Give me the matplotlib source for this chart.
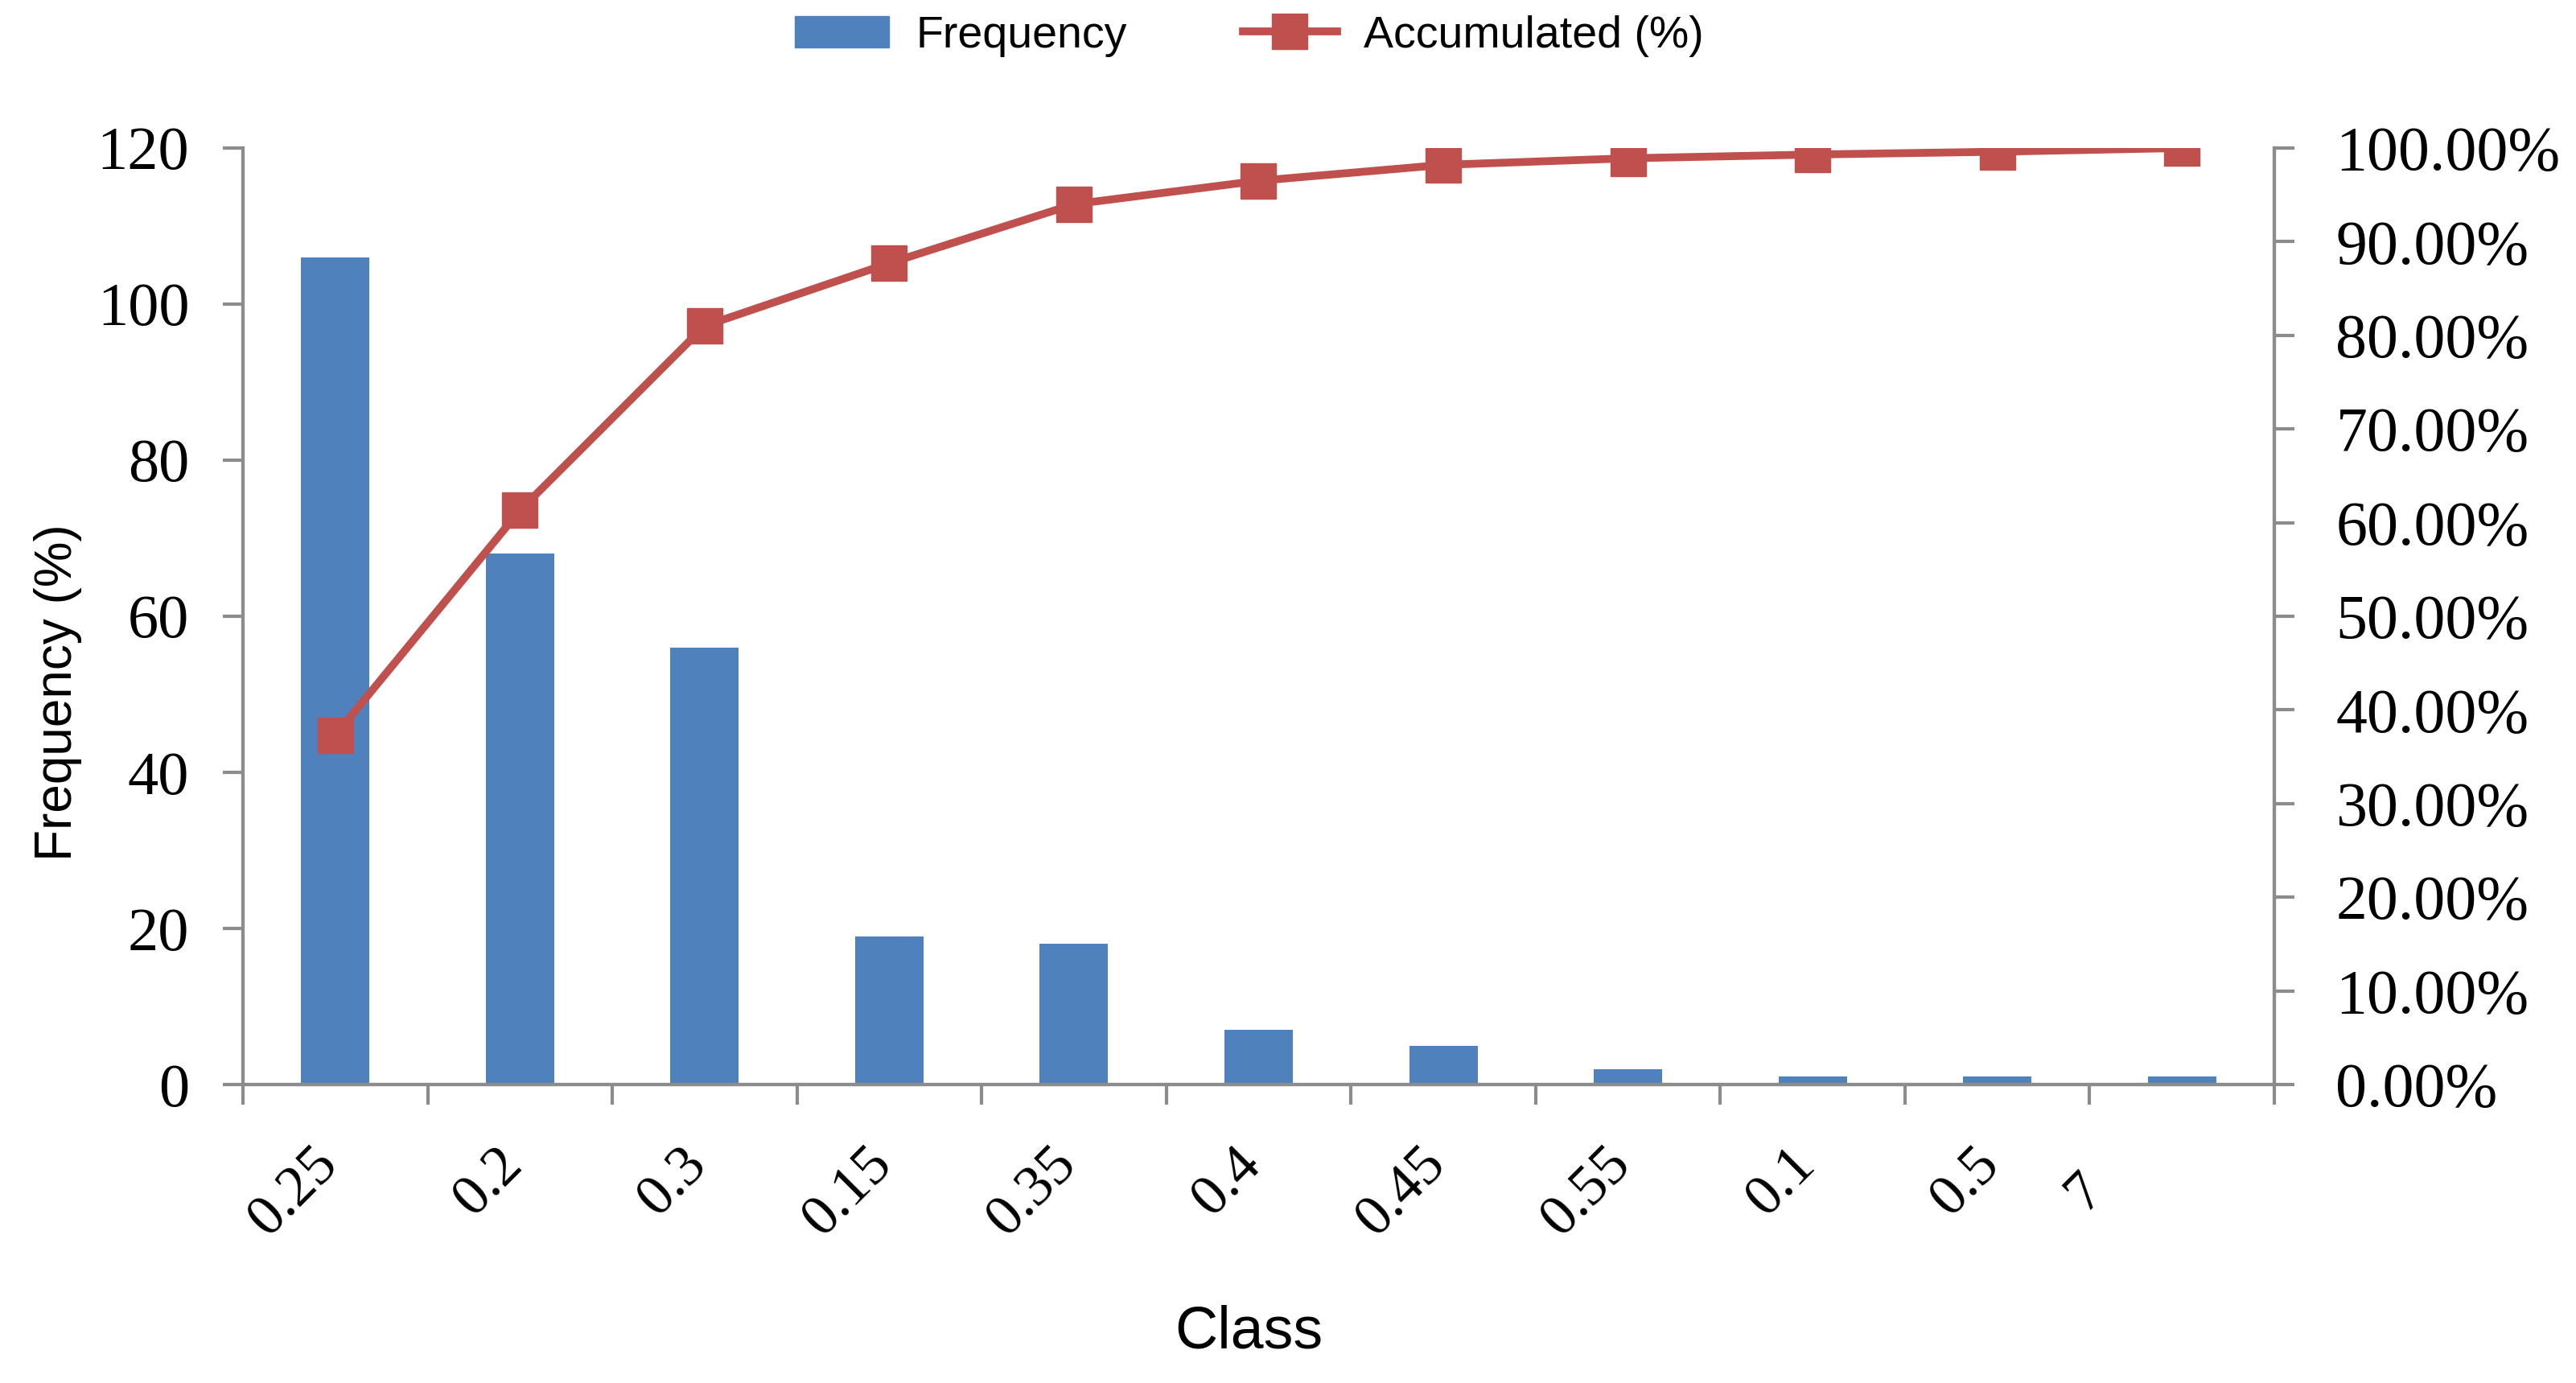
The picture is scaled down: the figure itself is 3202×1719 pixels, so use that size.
import matplotlib
matplotlib.use("Agg")
import matplotlib.pyplot as plt
import matplotlib.transforms as mtransforms
from matplotlib.lines import Line2D
from matplotlib.patches import Patch

classes = ["0.25", "0.2", "0.3", "0.15", "0.35", "0.4", "0.45", "0.55", "0.1", "0.5", "7"]
frequency = [106, 68, 56, 19, 18, 7, 5, 2, 1, 1, 1]
accumulated = [37.3, 61.3, 81.0, 87.7, 94.0, 96.5, 98.2, 98.9, 99.3, 99.6, 100.0]
left_ticks = [0, 20, 40, 60, 80, 100, 120]
right_ticks = [0, 10, 20, 30, 40, 50, 60, 70, 80, 90, 100]

sans = "Liberation Sans"
serif = "Liberation Serif"

BLUE = "#4F81BD"
RED = "#C0504D"
GRAY = "#8C8C8C"

fig = plt.figure(figsize=(32.02, 17.19), dpi=100)
ax = fig.add_axes([0.0943, 0.2158, 0.8829 - 0.0943, 0.893 - 0.2158])
ax2 = ax.twinx()

x = list(range(len(classes)))
ax.bar(x, frequency, width=0.37, color=BLUE, zorder=2)
ax2.plot(x, accumulated, color=RED, lw=7, marker="s", markersize=31,
         markerfacecolor=RED, markeredgecolor=RED, zorder=3)

ax.set_xlim(-0.5, len(classes) - 0.5)
ax.set_ylim(0, 120)
ax2.set_ylim(0, 100)

ax.set_yticks(left_ticks)
ax.set_yticklabels([str(v) for v in left_ticks], fontfamily=serif, fontsize=55)
ax2.set_yticks(right_ticks)
ax2.set_yticklabels([f"{v:.2f}%" for v in right_ticks], fontfamily=serif, fontsize=56)

ax.set_xticks(x)
ax.set_xticklabels(classes, fontfamily=serif, fontsize=52, rotation=45,
                   ha="right", va="center", rotation_mode="anchor")
ax.set_xticks([i - 0.5 for i in range(len(classes) + 1)], minor=True)
ax.tick_params(axis="x", which="major", length=0, pad=0)
ax.tick_params(axis="x", which="minor", length=18, width=3, color=GRAY)
labels = ax.get_xticklabels()
offset = mtransforms.ScaledTranslation(-0.07, -0.89, fig.dpi_scale_trans)
for lab in labels[:-1]:
    lab.set_transform(lab.get_transform() + offset)
offset_last = mtransforms.ScaledTranslation(-1.08, -1.21, fig.dpi_scale_trans)
labels[-1].set_transform(labels[-1].get_transform() + offset_last)

ax.tick_params(axis="y", length=18, width=3, color=GRAY, pad=30)
ax2.tick_params(axis="y", length=18, width=3, color=GRAY, pad=37)

for a in (ax, ax2):
    a.spines["top"].set_visible(False)
    for s in ("left", "right", "bottom"):
        a.spines[s].set_color(GRAY)
        a.spines[s].set_linewidth(3)

ax.set_ylabel("Frequency (%)", fontfamily=sans, fontsize=46)
ax.yaxis.set_label_coords(-0.079, 0.419)
ax.set_xlabel("Class", fontfamily=sans, fontsize=53)
ax.xaxis.set_label_coords(0.495, -0.235)

handles = [Patch(facecolor=BLUE, edgecolor=BLUE),
           Line2D([0], [0], color=RED, lw=7, marker="s", markersize=31)]
fig.legend(handles, ["Frequency", "Accumulated (%)"], loc="center",
           bbox_to_anchor=(0.485, 0.974), ncol=2, frameon=False,
           prop={"family": sans, "size": 40}, handlelength=2.1,
           columnspacing=2.6, handletextpad=0.6)

fig.savefig("out.png", dpi=100, facecolor="white")
